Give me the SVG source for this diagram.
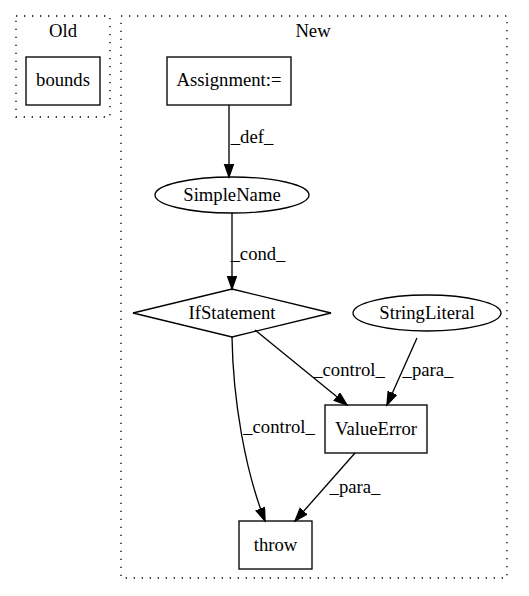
<svg xmlns="http://www.w3.org/2000/svg" width="529" height="596" viewBox="0 0 529 596">
<style>
text{font-family:'Liberation Serif','Times New Roman',serif;font-size:18.67px;fill:#000;text-anchor:middle}
.cl{fill:none;stroke:#000;stroke-width:1.33;stroke-dasharray:1.33,6.67}
.n{fill:#fff;stroke:#000;stroke-width:1.33}
.e{fill:none;stroke:#000;stroke-width:1.33}
</style>
<defs>
<marker id="ah" markerUnits="userSpaceOnUse" markerWidth="15" markerHeight="11" refX="13.3" refY="5" orient="auto">
<path d="M0.5,0.5 L13.3,5 L0.5,9.5 z" fill="#000" stroke="#000" stroke-width="1.33"/>
</marker>
</defs>
<rect width="529" height="596" fill="#fff"/>
<g id="cluster_old">
<rect class="cl" x="16" y="16" width="94" height="101"/>
<text x="63" y="37">Old</text>
</g>
<g id="cluster_new">
<rect class="cl" x="121" y="16" width="386" height="562"/>
<text x="313" y="37">New</text>
</g>
<g id="bounds">
<rect class="n" x="26" y="57" width="74" height="48"/>
<text x="63" y="86">bounds</text>
</g>
<g id="assignment">
<rect class="n" x="167" y="57" width="124" height="48"/>
<text x="229" y="86">Assignment:=</text>
</g>
<g id="simplename">
<ellipse class="n" cx="232" cy="195" rx="77" ry="18"/>
<text x="232" y="201">SimpleName</text>
</g>
<g id="ifstatement">
<polygon class="n" points="232,289 331,313 232,337 133,313"/>
<text x="232" y="319">IfStatement</text>
</g>
<g id="stringliteral">
<ellipse class="n" cx="427" cy="313" rx="74" ry="18"/>
<text x="427" y="319">StringLiteral</text>
</g>
<g id="valueerror">
<rect class="n" x="325" y="405" width="102" height="48"/>
<text x="376" y="435">ValueError</text>
</g>
<g id="throw">
<rect class="n" x="239" y="521" width="73" height="48"/>
<text x="275.5" y="551">throw</text>
</g>
<g id="edges">
<path class="e" d="M229,105 L229,177" marker-end="url(#ah)"/>
<text x="252" y="143">_def_</text>
<path class="e" d="M232,213 L232,289" marker-end="url(#ah)"/>
<text x="258" y="260">_cond_</text>
<path class="e" d="M255,330 L347,405" marker-end="url(#ah)"/>
<text x="349" y="376">_control_</text>
<path class="e" d="M417,338 L387,405" marker-end="url(#ah)"/>
<text x="428" y="376">_para_</text>
<path class="e" d="M232,337 C233,400 245,470 265,521" marker-end="url(#ah)"/>
<text x="279" y="433">_control_</text>
<path class="e" d="M355,453 L295,521" marker-end="url(#ah)"/>
<text x="355" y="493">_para_</text>
</g>
</svg>
